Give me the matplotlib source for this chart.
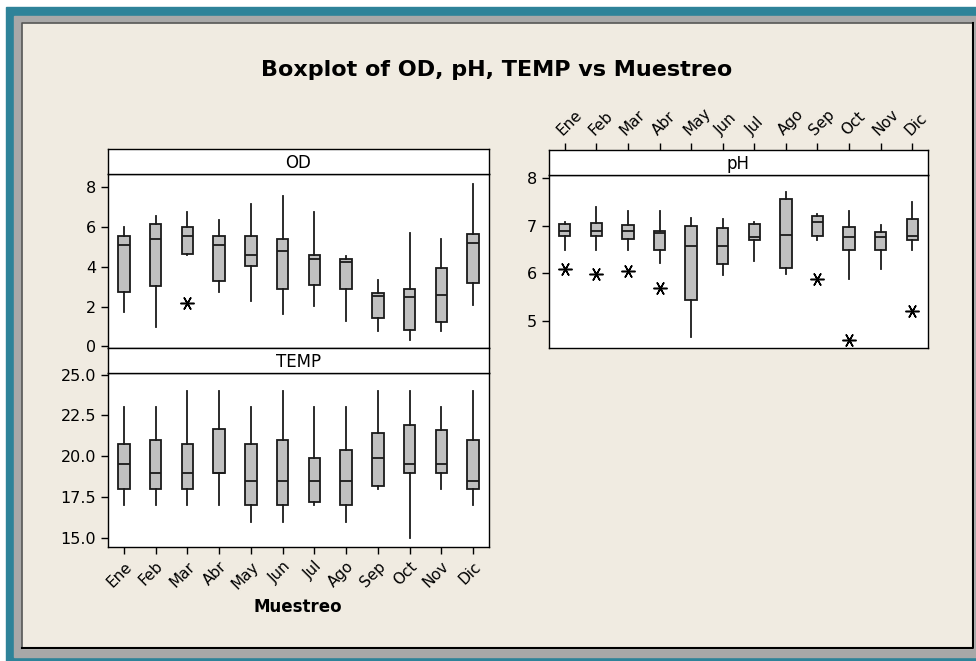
import matplotlib
matplotlib.use("Agg")
import matplotlib.pyplot as plt
from matplotlib.patches import Rectangle
from matplotlib.lines import Line2D

W, H = 976, 661

meses = ["Ene", "Feb", "Mar", "Abr", "May", "Jun", "Jul", "Ago", "Sep", "Oct", "Nov", "Dic"]

# OD
od_hi = [6.0, 6.58, 6.78, 6.38, 7.16, 7.55, 6.78, 4.53, 3.34, 5.70, 5.40, 8.17]
od_q3 = [5.57, 6.16, 5.99, 5.57, 5.57, 5.40, 4.58, 4.40, 2.67, 2.89, 3.94, 5.64]
od_med = [5.12, 5.40, 5.57, 5.12, 4.58, 4.78, 4.40, 4.24, 2.52, 2.48, 2.60, 5.18]
od_q1 = [2.73, 3.02, 4.65, 3.27, 4.06, 2.89, 3.07, 2.89, 1.43, 0.84, 1.22, 3.19]
od_lo = [1.73, 1.00, 4.60, 2.72, 2.27, 1.63, 2.01, 1.29, 0.76, 0.34, 0.76, 2.06]
od_out = [[], [], [2.18], [], [], [], [], [], [], [], [], []]

# pH
ph_hi = [7.09, 7.40, 7.32, 7.32, 7.17, 7.14, 7.09, 7.72, 7.24, 7.32, 7.02, 7.51]
ph_q3 = [7.04, 7.06, 7.01, 6.90, 7.00, 6.95, 7.04, 7.56, 7.21, 6.98, 6.87, 7.14]
ph_med = [6.90, 6.90, 6.90, 6.85, 6.57, 6.57, 6.77, 6.81, 7.09, 6.76, 6.76, 6.78]
ph_q1 = [6.78, 6.78, 6.73, 6.50, 5.43, 6.20, 6.70, 6.12, 6.78, 6.50, 6.50, 6.70]
ph_lo = [6.50, 6.50, 6.50, 6.21, 4.66, 5.96, 6.26, 5.98, 6.70, 5.89, 6.09, 6.50]
ph_out = [[6.09], [5.98], [6.05], [5.70], [], [], [], [], [5.89], [4.59], [], [5.20]]

# TEMP
temp_hi = [23, 23, 24, 24, 23, 24, 23, 23, 24, 24, 23, 24]
temp_q3 = [20.75, 21.0, 20.75, 21.7, 20.75, 21.0, 19.9, 20.4, 21.4, 21.9, 21.6, 21.0]
temp_med = [19.5, 19.0, 19.0, 19.0, 18.5, 18.5, 18.5, 18.5, 19.9, 19.5, 19.5, 18.5]
temp_q1 = [18.0, 18.0, 18.0, 19.0, 17.0, 17.0, 17.2, 17.0, 18.2, 19.0, 19.0, 18.0]
temp_lo = [17, 17, 17, 17, 16, 16, 17, 16, 18, 15, 18, 17]
temp_out = [[] for _ in meses]

FS = 11.5
TEAL = "#2e8399"
GRIS = "#a8a8a8"
BEIGE = "#f0ebe1"
CAJA = "#c0c0c0"


def rect(x0, y0, x1, y1):
    # pixeles (origen arriba-izquierda) -> fraccion de figura
    return [x0 / W, 1 - y1 / H, (x1 - x0) / W, (y1 - y0) / H]


def stats(lo, q1, med, q3, hi, out):
    return [dict(whislo=a, q1=b, med=c, q3=d, whishi=e, fliers=f)
            for a, b, c, d, e, f in zip(lo, q1, med, q3, hi, out)]


def cajas(ax, st):
    ax.bxp(st, positions=range(1, 13), widths=0.36, showcaps=False, patch_artist=True,
           boxprops=dict(facecolor=CAJA, edgecolor="#1a1a1a", linewidth=1.3),
           medianprops=dict(color="#1a1a1a", linewidth=1.3),
           whiskerprops=dict(color="#1a1a1a", linewidth=1.3),
           flierprops=dict(marker=(6, 2, 90), markersize=10, markeredgecolor="black",
                           markeredgewidth=1.1, linestyle="none"))
    ax.set_xlim(0.5, 12.5)
    ax.set_facecolor("white")
    for s in ax.spines.values():
        s.set_linewidth(1.0)
    ax.tick_params(axis="y", direction="out", length=5, labelsize=FS, width=1)


def franja(rc, texto):
    ax = fig.add_axes(rect(*rc))
    ax.set_facecolor("white")
    ax.set_xlim(0.5, 12.5)
    ax.set_xticks([])
    ax.set_yticks([])
    for s in ax.spines.values():
        s.set_linewidth(1.0)
    ax.text(0.5, 0.45, texto, transform=ax.transAxes, ha="center", va="center", fontsize=FS + 0.5)
    return ax


fig = plt.figure(figsize=(W / 100, H / 100), dpi=100, facecolor="white")

# marco
fig.add_artist(Rectangle((6 / W, 0), 1, 1 - 7 / H, transform=fig.transFigure, color=TEAL, zorder=-3))
fig.add_artist(Rectangle((14 / W, 1 - 657 / H), 1, (657 - 16) / H, transform=fig.transFigure, color=GRIS, zorder=-2))
fig.add_artist(Rectangle((22 / W, 1 - 648 / H), (973 - 22) / W, (648 - 23) / H, transform=fig.transFigure,
                         color=BEIGE, zorder=-1))
fig.add_artist(Line2D([22 / W, 22 / W, 973 / W], [1 - 648 / H, 1 - 23 / H, 1 - 23 / H],
                      transform=fig.transFigure, color="#555555", linewidth=1.2))
fig.add_artist(Line2D([22 / W, 973 / W, 973 / W], [1 - 648 / H, 1 - 648 / H, 1 - 23 / H],
                      transform=fig.transFigure, color="black", linewidth=1.5))

# OD
ax_od = fig.add_axes(rect(108, 174, 489, 348))
cajas(ax_od, stats(od_lo, od_q1, od_med, od_q3, od_hi, od_out))
ax_od.set_ylim(-0.08, 8.67)
ax_od.set_yticks([0, 2, 4, 6, 8])
ax_od.set_xticks([])
franja((108, 149, 489, 174), "OD")

# TEMP
ax_t = fig.add_axes(rect(108, 373, 489, 547))
cajas(ax_t, stats(temp_lo, temp_q1, temp_med, temp_q3, temp_hi, temp_out))
ax_t.set_ylim(14.45, 25.1)
ax_t.set_yticks([15.0, 17.5, 20.0, 22.5, 25.0])
ax_t.set_yticklabels([f"{v:.1f}" for v in [15.0, 17.5, 20.0, 22.5, 25.0]])
ax_t.set_xticks(range(1, 13))
ax_t.set_xticklabels(meses, rotation=45, ha="right", rotation_mode="anchor", fontsize=FS - 0.5)
ax_t.tick_params(axis="x", direction="out", length=5, width=1)
franja((108, 348, 489, 373), "TEMP")

# pH
ax_ph = fig.add_axes(rect(549, 175, 928, 348))
cajas(ax_ph, stats(ph_lo, ph_q1, ph_med, ph_q3, ph_hi, ph_out))
ax_ph.set_ylim(4.43, 8.07)
ax_ph.set_yticks([5, 6, 7, 8])
ax_ph.set_xticks([])
s_ph = franja((549, 150, 928, 175), "pH")
s_ph.set_xticks(range(1, 13))
s_ph.xaxis.tick_top()
s_ph.set_xticklabels(meses, rotation=45, ha="left", rotation_mode="anchor", fontsize=FS - 0.5)
s_ph.tick_params(axis="x", direction="out", length=5, width=1)

fig.text(497 / W, 1 - 70 / H, "Boxplot of OD, pH, TEMP vs Muestreo", ha="center", va="center",
         fontsize=16, fontweight="bold")
fig.text(298 / W, 1 - 607 / H, "Muestreo", ha="center", va="center", fontsize=12, fontweight="bold")

fig.savefig("out.png", dpi=100, facecolor=fig.get_facecolor())
